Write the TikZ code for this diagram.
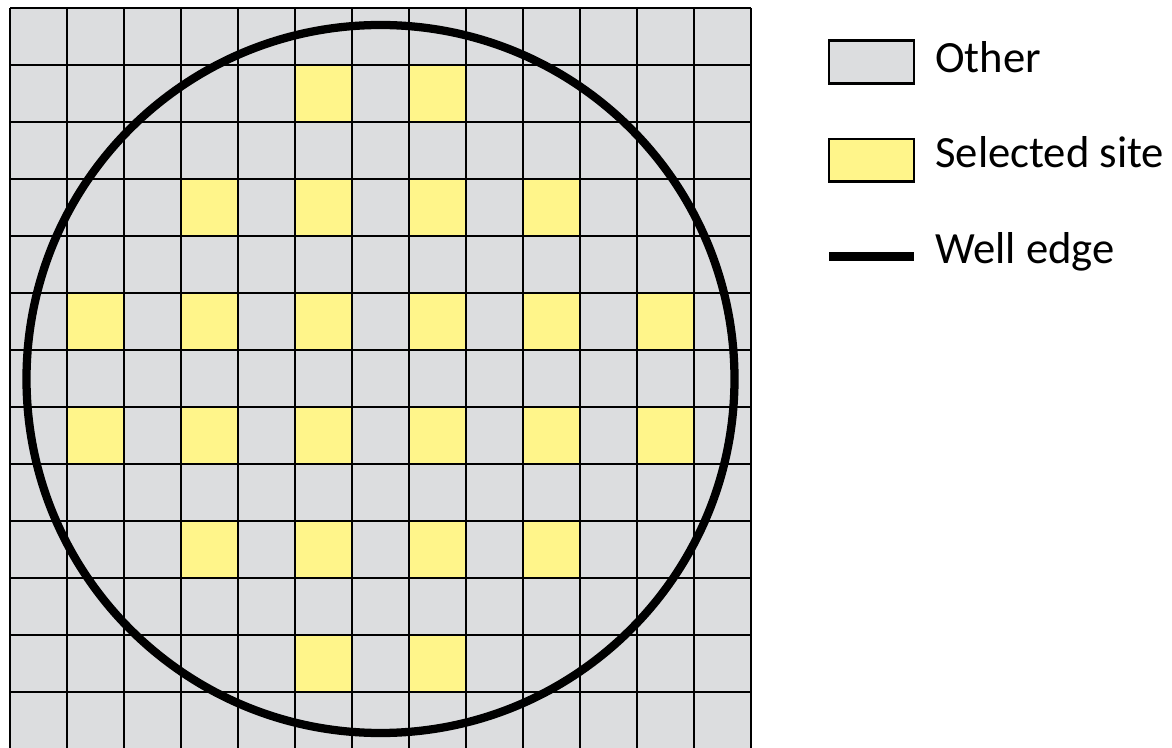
\documentclass[tikz,border=0pt]{standalone}
\usepackage{fontspec}
\setmainfont{Carlito}
\definecolor{cellgray}{HTML}{DCDDDF}
\definecolor{cellyellow}{HTML}{FFF58A}
\tikzset{
  gridline/.style={draw=black, line width=1.5pt},
  welledge/.style={draw=black, line width=6.2pt},
  legendbox/.style={draw=black, line width=2pt, minimum width=63.75pt, minimum height=32pt, inner sep=0pt},
  legendtext/.style={anchor=base west, inner sep=0pt, font=\fontsize{33.5}{40}\selectfont}
}
\begin{document}
\begin{tikzpicture}[x=0.75pt,y=-0.75pt]
\useasboundingbox (0,0) rectangle (1172,748);
\begin{scope}
\clip (0,0) rectangle (1172,748);
\fill[cellgray] (10,8) rectangle (751,749);
\foreach \c/\r in {5/1,7/1,
  3/3,5/3,7/3,9/3,
  1/5,3/5,5/5,7/5,9/5,11/5,
  1/7,3/7,5/7,7/7,9/7,11/7,
  3/9,5/9,7/9,9/9,
  5/11,7/11}{
  \fill[cellyellow] (10+57*\c,8+57*\r) rectangle (67+57*\c,65+57*\r);
}
\foreach \i in {0,...,13}{
  \draw[gridline] (10+57*\i,8) -- (10+57*\i,749);
  \draw[gridline] (10,8+57*\i) -- (751,8+57*\i);
}
\draw[welledge] (380.5,379) circle[radius=354];
\end{scope}
\node[legendbox, fill=cellgray] (lother) at (871.5,62) {};
\node[legendbox, fill=cellyellow] (lsel) at (871.5,160.5) {};
\coordinate (lw1) at (829,256.5);
\coordinate (lw2) at (914,256.5);
\draw[welledge] (lw1) -- (lw2);
\node[legendtext] (tother) at (935,73) {Other};
\node[legendtext] (tsel) at (935,168) {Selected site};
\node[legendtext] (twell) at (935,264) {Well edge};
\end{tikzpicture}
\end{document}
